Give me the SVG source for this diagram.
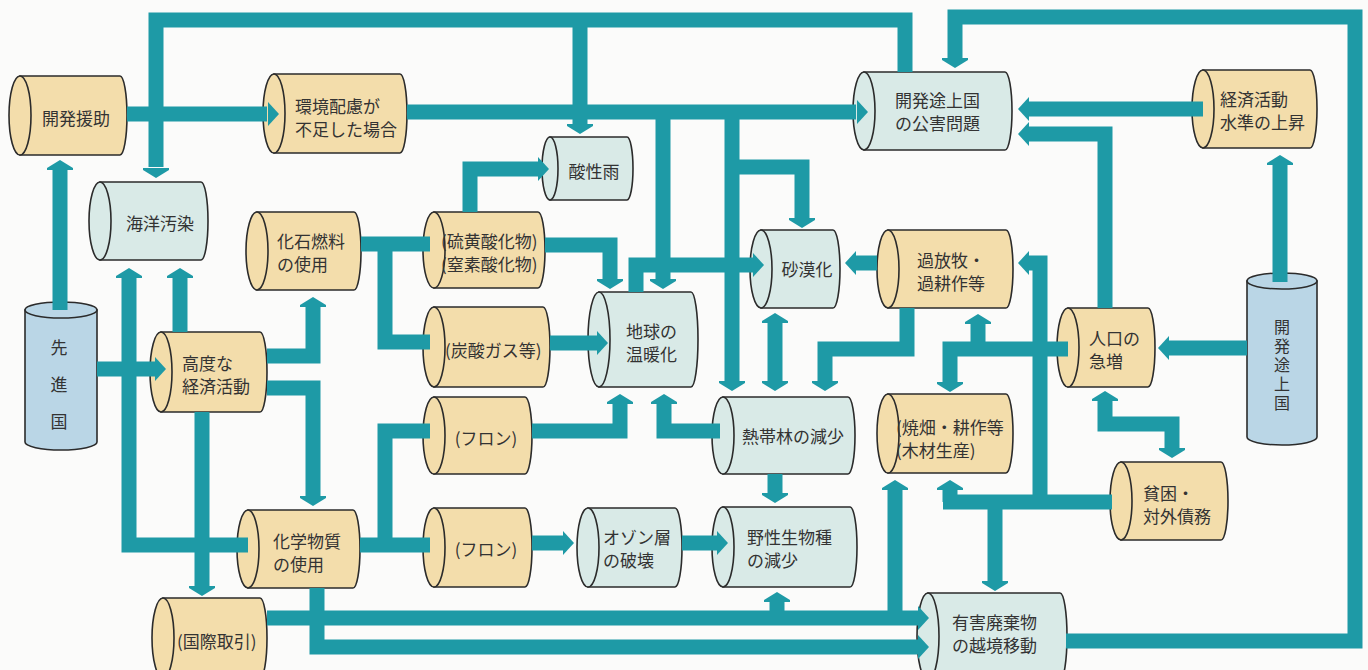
<svg xmlns="http://www.w3.org/2000/svg" width="1368" height="670" viewBox="0 0 1368 670">
<style>
.c{fill:none;stroke:#1e9aa6;stroke-width:15;stroke-linejoin:miter;stroke-linecap:butt}
.a{fill:#1e9aa6}
.tan{fill:#f3ddab;stroke:#2b2b2b;stroke-width:1.6}
.lt{fill:#d9eae7;stroke:#2b2b2b;stroke-width:1.6}
.bl{fill:#bad6e6;stroke:#2b2b2b;stroke-width:1.6}
text{font-family:"Noto Sans CJK JP","Noto Sans CJK SC",sans-serif;font-size:17px;fill:#333;dominant-baseline:central}
.m{text-anchor:middle}
.v{writing-mode:vertical-rl;text-anchor:start}
</style>
<defs>
<path id="aD" d="M-13,-10H13V-8L0,0L-13,-8Z"/>
<path id="aU" d="M-13,10H13V8L0,0L-13,8Z"/>
<path id="aR" d="M-11,-12L0,0L-11,12Z"/>
<path id="aL" d="M11,-12L0,0L11,12Z"/>
</defs>
<rect width="1368" height="670" fill="#fbfbfa"/>

<g id="n-kaihatsuenjo"><path class="tan" d="M20,76H120A7,39.5 0 0 1 120,155H20Z"/><ellipse class="tan" cx="20" cy="115.5" rx="11" ry="39.5"/><text class="m" x="76" y="117">開発援助</text></g>
<g id="n-kankyo"><path class="tan" d="M274,74H400A7,39.5 0 0 1 400,153H274Z"/><ellipse class="tan" cx="274" cy="113.5" rx="11" ry="39.5"/><text x="295" y="105">環境配慮が<tspan x="295" dy="23">不足した場合</tspan></text></g>
<g id="n-kaiyo"><path class="lt" d="M100,182H201A7,39 0 0 1 201,260H100Z"/><ellipse class="lt" cx="100" cy="221" rx="11" ry="39"/><text class="m" x="160" y="222">海洋汚染</text></g>
<g id="n-kaseki"><path class="tan" d="M257,212H354A7,39 0 0 1 354,290H257Z"/><ellipse class="tan" cx="257" cy="251" rx="11" ry="39"/><text x="277" y="240">化石燃料<tspan x="277" dy="23">の使用</tspan></text></g>
<g id="n-sanseiu"><path class="lt" d="M550,137H627A6,31.5 0 0 1 627,200H550Z"/><ellipse class="lt" cx="550" cy="168.5" rx="8" ry="31.5"/><text class="m" x="594" y="170">酸性雨</text></g>
<g id="n-iou"><path class="tan" d="M434,212H538A7,38 0 0 1 538,288H434Z"/><ellipse class="tan" cx="434" cy="250" rx="11" ry="38"/><text x="441" y="240">(硫黄酸化物)<tspan x="441" dy="23">(窒素酸化物)</tspan></text></g>
<g id="n-ondanka"><path class="lt" d="M599,292H691A7,47.5 0 0 1 691,387H599Z"/><ellipse class="lt" cx="599" cy="339.5" rx="11" ry="47.5"/><text x="626" y="330">地球の<tspan x="626" dy="23">温暖化</tspan></text></g>
<g id="n-sabaku"><path class="lt" d="M761,230H833A7,39 0 0 1 833,308H761Z"/><ellipse class="lt" cx="761" cy="269" rx="11" ry="39"/><text class="m" x="807" y="268">砂漠化</text></g>
<g id="n-kahoboku"><path class="tan" d="M888,230H1006A7,39 0 0 1 1006,308H888Z"/><ellipse class="tan" cx="888" cy="269" rx="11" ry="39"/><text x="917" y="259">過放牧・<tspan x="917" dy="23">過耕作等</tspan></text></g>
<g id="n-kougai"><path class="lt" d="M864,72H1005A7,39 0 0 1 1005,150H864Z"/><ellipse class="lt" cx="864" cy="111" rx="11" ry="39"/><text x="895" y="99">開発途上国<tspan x="895" dy="23">の公害問題</tspan></text></g>
<g id="n-keizai"><path class="tan" d="M1203,70H1310A7,39 0 0 1 1310,148H1203Z"/><ellipse class="tan" cx="1203" cy="109" rx="11" ry="39"/><text x="1220" y="98">経済活動<tspan x="1220" dy="23">水準の上昇</tspan></text></g>
<g id="n-tojokoku"><path class="bl" d="M1247,281V437A35,8 0 0 0 1317,437V281Z"/><ellipse class="bl" cx="1282" cy="281" rx="35" ry="8"/><text class="v" x="1282" y="319" style="font-size:16px;letter-spacing:3px">開発途上国</text></g>
<g id="n-senshinkoku"><path class="bl" d="M25,310V442A36,8 0 0 0 97,442V310Z"/><ellipse class="bl" cx="61" cy="310" rx="36" ry="8"/><text class="v" x="59" y="339" style="letter-spacing:20px">先進国</text></g>
<g id="n-kodo"><path class="tan" d="M161,332H260A7,40 0 0 1 260,412H161Z"/><ellipse class="tan" cx="161" cy="372" rx="11" ry="40"/><text x="182" y="362">高度な<tspan x="182" dy="23">経済活動</tspan></text></g>
<g id="n-tansan"><path class="tan" d="M434,307H543A7,40 0 0 1 543,387H434Z"/><ellipse class="tan" cx="434" cy="347" rx="11" ry="40"/><text x="445" y="349">(炭酸ガス等)</text></g>
<g id="n-furon1"><path class="tan" d="M434,397H525A7,38.5 0 0 1 525,474H434Z"/><ellipse class="tan" cx="434" cy="435.5" rx="11" ry="38.5"/><text class="m" x="486" y="437">(フロン)</text></g>
<g id="n-nettairin"><path class="lt" d="M723,397H848A7,38.5 0 0 1 848,474H723Z"/><ellipse class="lt" cx="723" cy="435.5" rx="11" ry="38.5"/><text class="m" x="793" y="435">熱帯林の減少</text></g>
<g id="n-yakihata"><path class="tan" d="M888,394H1006A7,39.5 0 0 1 1006,473H888Z"/><ellipse class="tan" cx="888" cy="433.5" rx="11" ry="39.5"/><text x="896" y="426">(焼畑・耕作等<tspan x="896" dy="23">(木材生産)</tspan></text></g>
<g id="n-jinko"><path class="tan" d="M1068,308H1148A7,39.5 0 0 1 1148,387H1068Z"/><ellipse class="tan" cx="1068" cy="347.5" rx="11" ry="39.5"/><text x="1089" y="337">人口の<tspan x="1089" dy="23">急増</tspan></text></g>
<g id="n-hinkon"><path class="tan" d="M1121,462H1221A7,39 0 0 1 1221,540H1121Z"/><ellipse class="tan" cx="1121" cy="501" rx="11" ry="39"/><text x="1143" y="492">貧困・<tspan x="1143" dy="23">対外債務</tspan></text></g>
<g id="n-kagaku"><path class="tan" d="M248,510H353A7,39 0 0 1 353,588H248Z"/><ellipse class="tan" cx="248" cy="549" rx="11" ry="39"/><text x="273" y="540">化学物質<tspan x="273" dy="23">の使用</tspan></text></g>
<g id="n-furon2"><path class="tan" d="M434,508H525A7,39.5 0 0 1 525,587H434Z"/><ellipse class="tan" cx="434" cy="547.5" rx="11" ry="39.5"/><text class="m" x="486" y="548">(フロン)</text></g>
<g id="n-ozon"><path class="lt" d="M588,508H675A7,39.5 0 0 1 675,587H588Z"/><ellipse class="lt" cx="588" cy="547.5" rx="11" ry="39.5"/><text x="603" y="536">オゾン層<tspan x="603" dy="23">の破壊</tspan></text></g>
<g id="n-yasei"><path class="lt" d="M723,507H850A7,40 0 0 1 850,587H723Z"/><ellipse class="lt" cx="723" cy="547" rx="11" ry="40"/><text x="747" y="536">野性生物種<tspan x="747" dy="23">の減少</tspan></text></g>
<g id="n-kokusai"><path class="tan" d="M163,598H260A7,40 0 0 1 260,678H163Z"/><ellipse class="tan" cx="163" cy="638" rx="11" ry="40"/><text x="177" y="640">(国際取引)</text></g>
<g id="n-yugai"><path class="lt" d="M928,593H1060A7,43.5 0 0 1 1060,680H928Z"/><ellipse class="lt" cx="928" cy="636.5" rx="11" ry="43.5"/><text x="952" y="621">有害廃棄物<tspan x="952" dy="23">の越境移動</tspan></text></g>

<g id="connectors">
<path class="c" d="M905,72V20H156V167"/><use class="a" href="#aD" x="156" y="178"/>
<path class="c" d="M580,20V124"/><use class="a" href="#aD" x="580" y="134"/>
<path class="c" d="M127,114H267"/><use class="a" href="#aR" x="279" y="114"/>
<path class="c" d="M407,112H856"/><use class="a" href="#aR" x="868" y="112"/>
<path class="c" d="M663,112V279"/><use class="a" href="#aD" x="663" y="289"/>
<path class="c" d="M732,112V381"/><use class="a" href="#aD" x="732" y="391"/>
<path class="c" d="M732,167H802V218"/><use class="a" href="#aD" x="802" y="228"/>
<path class="c" d="M636,292V265H753"/><use class="a" href="#aR" x="764" y="265"/>
<path class="c" d="M775,323V381"/><use class="a" href="#aU" x="775" y="313"/><use class="a" href="#aD" x="775" y="391"/>
<path class="c" d="M877,263H856"/><use class="a" href="#aL" x="845" y="263"/>
<path class="c" d="M907,308V349H825V381"/><use class="a" href="#aD" x="825" y="391"/>
<path class="c" d="M1068,349H950V382"/><use class="a" href="#aD" x="950" y="392"/>
<path class="c" d="M978,349V324"/><use class="a" href="#aU" x="978" y="314"/>
<path class="c" d="M1112,502H943M950,502V490"/><use class="a" href="#aU" x="950" y="480"/>
<path class="c" d="M995,502V581"/><use class="a" href="#aD" x="995" y="591"/>
<path class="c" d="M1040,502V263H1028"/><use class="a" href="#aL" x="1018" y="263"/>
<path class="c" d="M1105,308V134H1028"/><use class="a" href="#aL" x="1018" y="134"/>
<path class="c" d="M1203,109H1028"/><use class="a" href="#aL" x="1018" y="109"/>
<path class="c" d="M1280,282V165"/><use class="a" href="#aU" x="1280" y="155"/>
<path class="c" d="M1247,348H1169"/><use class="a" href="#aL" x="1158" y="348"/>
<path class="c" d="M1105,401V424H1172V448"/><use class="a" href="#aU" x="1105" y="391"/><use class="a" href="#aD" x="1172" y="458"/>
<path class="c" d="M1066,641H1355V17H955V58"/><use class="a" href="#aD" x="955" y="68"/>
<path class="c" d="M60,310V170"/><use class="a" href="#aU" x="60" y="160"/>
<path class="c" d="M97,369H156"/><use class="a" href="#aR" x="166" y="369"/>
<path class="c" d="M248,545H129V278"/><use class="a" href="#aU" x="129" y="268"/>
<path class="c" d="M180,332V278"/><use class="a" href="#aU" x="180" y="268"/>
<path class="c" d="M267,356H313V307"/><use class="a" href="#aU" x="313" y="297"/>
<path class="c" d="M267,388H313V496"/><use class="a" href="#aD" x="313" y="506"/>
<path class="c" d="M202,412V586"/><use class="a" href="#aD" x="202" y="596"/>
<path class="c" d="M361,244H430M385,244V342H430"/>
<path class="c" d="M470,212V169H538"/><use class="a" href="#aR" x="549" y="169"/>
<path class="c" d="M545,245H610V279"/><use class="a" href="#aD" x="610" y="289"/>
<path class="c" d="M550,343H597"/><use class="a" href="#aR" x="608" y="343"/>
<path class="c" d="M532,431H620V404"/><use class="a" href="#aU" x="620" y="394"/>
<path class="c" d="M720,431H664V404"/><use class="a" href="#aU" x="664" y="394"/>
<path class="c" d="M360,545H430M385,545V431H430"/>
<path class="c" d="M775,474V493"/><use class="a" href="#aD" x="775" y="503"/>
<path class="c" d="M532,543H563"/><use class="a" href="#aR" x="574" y="543"/>
<path class="c" d="M682,543H717"/><use class="a" href="#aR" x="728" y="543"/>
<path class="c" d="M267,618H918M777,618V602M895,618V490"/><use class="a" href="#aR" x="929" y="618"/><use class="a" href="#aU" x="777" y="592"/><use class="a" href="#aU" x="895" y="480"/>
<path class="c" d="M317,588V647H918"/><use class="a" href="#aR" x="929" y="647"/>
</g>
</svg>
